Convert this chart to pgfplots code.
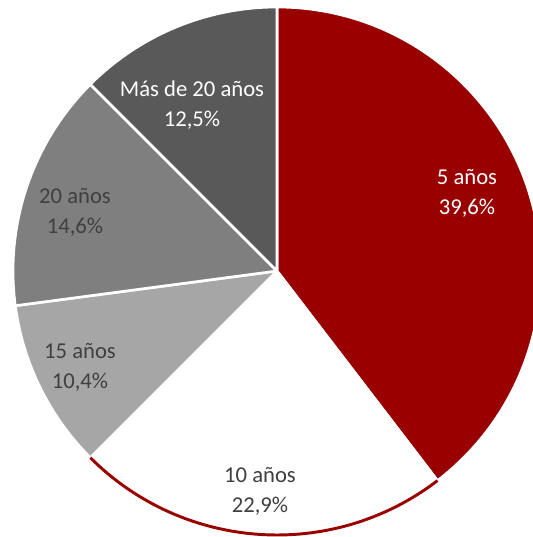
\documentclass[border=0pt]{standalone}
\usepackage{pgfplots}
\pgfplotsset{compat=1.18}
\usepackage{pgfplotstable}
\usepackage{fontspec}
\setmainfont{Carlito}
\definecolor{cA}{HTML}{990000}
\definecolor{cB}{HTML}{FFFFFF}
\definecolor{cC}{HTML}{A6A6A6}
\definecolor{cD}{HTML}{7F7F7F}
\definecolor{cE}{HTML}{595959}
\definecolor{txtdark}{HTML}{404040}
\pgfplotstableread[col sep=comma]{
label,value,color
5 años,39.6,cA
10 años,22.9,cB
15 años,10.4,cC
20 años,14.6,cD
Más de 20 años,12.5,cE
}\piedata
\begin{document}
\begin{tikzpicture}
\begin{axis}[
  name=ax,
  hide axis,
  x=0.75pt, y=0.75pt,
  xmin=0, xmax=533, ymin=0, ymax=537,
  y dir=reverse,
  clip=true,
]
\pgfplotstablegetrowsof{\piedata}
\pgfmathtruncatemacro\lastrow{\pgfplotsretval-1}
\def\cum{90}
\pgfplotsforeachungrouped \i in {0,...,\lastrow}{%
  \pgfplotstablegetelem{\i}{value}\of\piedata \let\v\pgfplotsretval
  \pgfplotstablegetelem{\i}{color}\of\piedata \let\c\pgfplotsretval
  \pgfmathsetmacro\endang{\cum - 3.6*\v}%
  \edef\temp{\noexpand\fill[fill=\c, draw=white, line width=2pt, line join=round] (axis cs:277,271) -- ++(\cum:198pt) arc[start angle=\cum, end angle=\endang, radius=198pt] -- cycle;}%
  \temp
  \ifnum\i=1 \xdef\redA{\cum}\xdef\redB{\endang}\fi
  \let\cum\endang
}
\edef\temp{\noexpand\draw[cA, line width=2.2pt] (axis cs:277,271) ++(\redA:198pt) arc[start angle=\redA, end angle=\redB, radius=198pt];}
\temp
\begin{scope}[every node/.style={align=center, font=\fontsize{17}{22.5}\selectfont}]
\node[text=white] at (axis cs:467,193) {5 años\\39,6\%};
\node[text=txtdark] at (axis cs:260,491) {10 años\\22,9\%};
\node[text=txtdark] at (axis cs:80,367) {15 años\\10,4\%};
\node[text=txtdark] at (axis cs:75,212) {20 años\\14,6\%};
\node[text=white] at (axis cs:192,105) {Más de 20 años\\12,5\%};
\end{scope}
\end{axis}
\pgfresetboundingbox
\path (ax.south west) rectangle (ax.north east);
\end{tikzpicture}
\end{document}
